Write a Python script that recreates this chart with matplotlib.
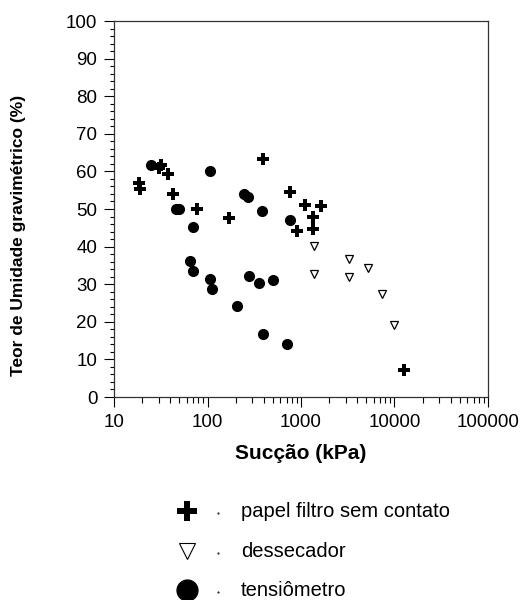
import matplotlib
matplotlib.use("Agg")
import matplotlib.pyplot as plt
from matplotlib.ticker import LogLocator, MultipleLocator, FixedLocator, NullFormatter

plt.rcParams['font.family'] = ['Liberation Sans', 'DejaVu Sans']

# papel filtro sem contato
pf_x = [18.7, 19.0, 30, 32, 37.5, 43.2, 77.8, 171, 395, 756, 1112, 1622, 1343, 1355, 914, 12650]
pf_y = [56.8, 55.2, 61.0, 61.6, 59.3, 54.1, 50.1, 47.5, 63.3, 54.6, 51.0, 50.8, 47.9, 44.7, 44.2, 7.3]
# dessecador
de_x = [1390, 1390, 3260, 3260, 5250, 7300, 9890]
de_y = [40.1, 32.8, 36.8, 31.9, 34.2, 27.3, 19.1]
# tensiometro
te_x = [24.9, 46.5, 50.0, 70.5, 105.5, 65.0, 70.5, 105.5, 111.7, 208, 245, 271, 383, 280, 352, 498, 395, 703, 769]
te_y = [61.7, 49.9, 49.9, 45.1, 60.2, 36.1, 33.5, 31.4, 28.6, 24.1, 54.1, 53.2, 49.4, 32.1, 30.2, 31.2, 16.7, 14.2, 47.2]

labels = ["papel filtro sem contato", "dessecador", "tensiômetro"]
x_ticks = [10, 100, 1000, 10000, 100000]
x_tick_labels = ["10", "100", "1000", "10000", "100000"]

fig = plt.figure(figsize=(5.26, 6.0), dpi=100)
ax = fig.add_axes([114/526, 1-397/600, 374/526, 376/600])

ax.plot(pf_x, pf_y, linestyle='none', marker='P', markersize=8.5, color='black', markeredgewidth=0)
ax.plot(de_x, de_y, linestyle='none', marker='v', markersize=5.5, markerfacecolor='white',
        markeredgecolor='black', markeredgewidth=0.9)
ax.plot(te_x, te_y, linestyle='none', marker='o', markersize=7, color='black')

ax.set_xscale('log')
ax.set_xlim(10, 100000)
ax.set_ylim(0, 100)
ax.xaxis.set_major_locator(FixedLocator(x_ticks))
ax.set_xticklabels(x_tick_labels)
ax.xaxis.set_minor_locator(LogLocator(base=10, subs=range(2, 10)))
ax.xaxis.set_minor_formatter(NullFormatter())
ax.yaxis.set_major_locator(MultipleLocator(10))
ax.yaxis.set_minor_locator(MultipleLocator(2))

ax.tick_params(axis='both', which='major', direction='out', length=7, width=0.8,
               labelsize=13.5, colors='black', pad=5)
ax.tick_params(axis='y', which='minor', direction='out', length=3.2, width=0.8)
ax.tick_params(axis='x', which='minor', direction='out', length=4, width=0.8)
for s in ax.spines.values():
    s.set_color('#333333')
    s.set_linewidth(0.9)

ax.set_xlabel("Sucção (kPa)", fontsize=15, fontweight='bold')
ax.set_ylabel("Teor de Umidade gravimétrico (%)", fontsize=12.5, fontweight='bold')
ax.xaxis.set_label_coords(0.5, -0.125)
ax.yaxis.set_label_coords(-0.235, 0.43)

# legend drawn below
lax = fig.add_axes([0, 0, 1, 1], facecolor='none')
lax.set_xlim(0, 526)
lax.set_ylim(600, 0)
lax.axis('off')
leg_base = [517, 557, 596]
mk_y = [b - 6 for b in leg_base]
lax.plot([187], [mk_y[0]], marker='P', markersize=15, color='black', markeredgewidth=0, linestyle='none')
lax.plot([187], [mk_y[1]], marker='v', markersize=12, markerfacecolor='white',
         markeredgecolor='black', markeredgewidth=0.8, linestyle='none')
lax.plot([187], [mk_y[2]], marker='o', markersize=15, color='black', linestyle='none')
for yb, ym, lab in zip(leg_base, mk_y, labels):
    lax.plot([218], [ym + 2], marker='.', markersize=1, color='black', linestyle='none')
    lax.text(241, yb, lab, fontsize=14.5, va='baseline', ha='left')

fig.savefig("out.png", dpi=100)
